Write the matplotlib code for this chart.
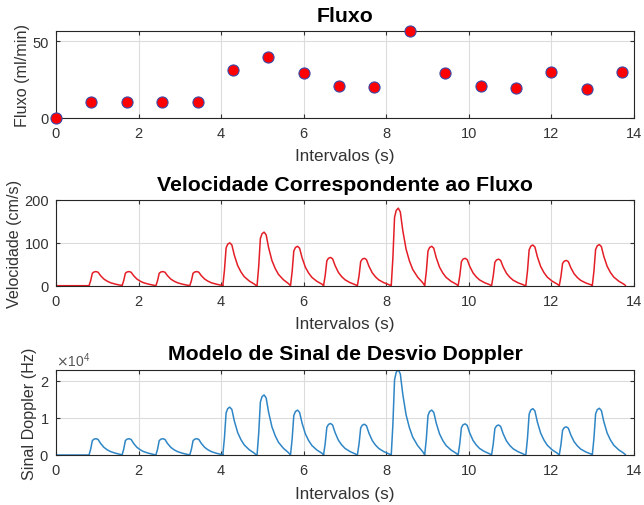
import numpy as np
import matplotlib
matplotlib.use("Agg")
import matplotlib.pyplot as plt
from matplotlib.ticker import ScalarFormatter

plt.rcParams['font.family'] = ['Liberation Sans', 'DejaVu Sans']

# Fluxo: sampled every 6/7 s
flux_t = [0, 0.857, 1.714, 2.571, 3.429, 4.286, 5.143, 6.0, 6.857, 7.714,
          8.571, 9.429, 10.286, 11.143, 12.0, 12.857, 13.714]
flux_val = [0, 10.3, 10.3, 10.3, 10.3, 31.1, 39.5, 29.2, 20.8, 20.2,
            56.5, 29.4, 20.6, 19.7, 29.8, 18.6, 30.0]

# beat onsets (s) and peak values per beat
beat_start = [0.80, 1.60, 2.42, 3.24, 4.04, 4.87, 5.68, 6.48, 7.30, 8.12,
              8.93, 9.74, 10.55, 11.38, 12.19, 12.99]
vel_peak = [33, 33, 33, 33, 100, 125, 92, 66, 64, 181, 92, 64, 62, 95, 59, 96]
dop_peak = [4400, 4400, 4400, 4400, 12900, 16200, 12100, 8500, 8300, 23000,
            12100, 8400, 8100, 12500, 7600, 12600]

# single pulse shape (offset s, relative height)
pulse_dt = [0.0, 0.04, 0.08, 0.12, 0.17, 0.22, 0.28, 0.36, 0.44, 0.52, 0.64, 0.76, 0.80]
pulse_rel = [0.0, 0.36, 0.88, 0.97, 1.0, 0.95, 0.71, 0.47, 0.32, 0.21, 0.11, 0.04, 0.01]


def build_wave(starts, peaks):
    t = [0.0]
    y = [0.0]
    for s, p in zip(starts, peaks):
        t.extend(s + d for d in pulse_dt)
        y.extend(p * r for r in pulse_rel)
    return t, y


vel_t, vel_y = build_wave(beat_start, vel_peak)
dop_t, dop_y = build_wave(beat_start, dop_peak)

fig = plt.figure(figsize=(6.44, 5.06), dpi=100)
W, H = 644, 506
left, right = 56, 634
boxes = [(32.3, 118.7), (201, 286.7), (370.7, 456)]
axes = []
for top, bot in boxes:
    ax = fig.add_axes([left / W, 1 - bot / H, (right - left) / W, (bot - top) / H])
    axes.append(ax)

text_col = '#333333'
title_kw = dict(fontsize=15.3, fontweight='bold', pad=7.5)
ylab_kw = dict(fontsize=11.6, color=text_col, labelpad=2)
for ax in axes:
    ax.set_xlim(0, 14)
    ax.set_xticks(range(0, 15, 2))
    ax.grid(True, color='#dcdcdc', linewidth=0.8)
    ax.set_axisbelow(True)
    ax.tick_params(direction='in', top=True, right=True, length=3,
                   labelsize=10.5, colors=text_col, width=0.8)
    ax.tick_params(axis='x', pad=6)
    ax.tick_params(axis='y', pad=5)
    for sp in ax.spines.values():
        sp.set_color('#262626')
        sp.set_linewidth(0.8)
    ax.set_xlabel('Intervalos (s)', fontsize=12.3, color=text_col, labelpad=6)

ax1, ax2, ax3 = axes

ax1.plot(flux_t, flux_val, 'o', color='red', markeredgecolor='#3b4aa8',
         markeredgewidth=0.8, markersize=8, clip_on=False, zorder=3)
ax1.set_ylim(0, max(flux_val))
ax1.set_yticks([0, 50])
ax1.set_ylabel('Fluxo (ml/min)', **ylab_kw)
ax1.set_title('Fluxo', **title_kw)

ax2.plot(vel_t, vel_y, color='#e41e26', linewidth=1.1)
ax2.set_ylim(0, 200)
ax2.set_yticks([0, 100, 200])
ax2.set_ylabel('Velocidade (cm/s)', **ylab_kw)
ax2.set_title('Velocidade Correspondente ao Fluxo', **title_kw)

ax3.plot(dop_t, dop_y, color='#2f86c6', linewidth=1.1)
ax3.set_ylim(0, max(dop_peak))
ax3.set_yticks([0, 10000, 20000])
fmt = ScalarFormatter(useMathText=True)
fmt.set_powerlimits((0, 0))
ax3.yaxis.set_major_formatter(fmt)
ax3.yaxis.get_offset_text().set_fontsize(10)
ax3.yaxis.get_offset_text().set_color('#555555')
ax3.set_ylabel('Sinal Doppler (Hz)', **ylab_kw)
ax3.set_title('Modelo de Sinal de Desvio Doppler', **title_kw)

fig.savefig('out.png', dpi=100)
plt.close(fig)
